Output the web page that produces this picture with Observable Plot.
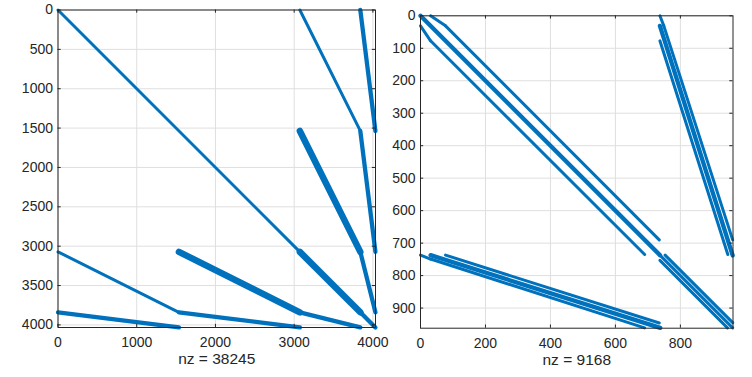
<!DOCTYPE html>
<html><head><meta charset="utf-8">
<script src="https://cdn.jsdelivr.net/npm/d3@7"></script>
<script src="https://cdn.jsdelivr.net/npm/@observablehq/plot@0.6"></script>
<style>
body{margin:0;background:#fff;}
#fig{position:relative;width:752px;height:377px;overflow:hidden;background:#fff;}
#fig > div{position:absolute;top:0;}
</style></head><body>
<div id="fig"><div id="a" style="left:0px"></div><div id="b" style="left:380px"></div></div>
<script>
// ---- Left matrix (n = 4032): nonzero pattern as segments [col0,row0,col1,row1,kind]
const leftN = 4032;
const leftLabel = "nz = 38245";
const leftXTicks = [0, 1000, 2000, 3000, 4000];
const leftYTicks = [0, 500, 1000, 1500, 2000, 2500, 3000, 3500, 4000];
const leftSegments = [
  [0, 0, 3072, 3072, "line"],
  [3072, 3072, 3840, 3840, "band"],
  [3840, 3840, 4032, 4032, "wide"],
  [3072, 0, 3840, 1536, "line"],
  [3840, 0, 4032, 1536, "wide"],
  [3072, 1536, 3840, 3072, "band"],
  [3840, 1536, 4032, 3072, "wide"],
  [3840, 3072, 4032, 3840, "wide"],
  [0, 3072, 1536, 3840, "line"],
  [0, 3840, 1536, 4032, "wide"],
  [1536, 3072, 3072, 3840, "band"],
  [1536, 3840, 3072, 4032, "wide"],
  [3072, 3840, 3840, 4032, "wide"]
];

// ---- Right matrix (n = 961)
const rightN = 961;
const rightLabel = "nz = 9168";
const rightXTicks = [0, 200, 400, 600, 800];
const rightYTicks = [0, 100, 200, 300, 400, 500, 600, 700, 800, 900];
const rightSegments = [
  [0, 0, 737, 737, "wide"],
  [31, 0, 77, 31, "line"], [77, 31, 735, 690, "line"],
  [0, 31, 31, 77, "line"], [31, 77, 690, 735, "line"],
  [737, 737, 961, 961, "line"],
  [753, 737, 961, 945, "line"],
  [737, 753, 945, 961, "line"],
  [737, 0, 749, 31, "line"], [749, 31, 961, 690, "line"],
  [737, 31, 961, 738, "wide"],
  [737, 77, 946, 735, "line"],
  [0, 737, 31, 749, "line"], [31, 749, 690, 961, "line"],
  [31, 737, 738, 961, "wide"],
  [77, 737, 735, 946, "line"]
];

const BLUE = "#0072BD";
const INK = "#262626";
const GRID = "#dfdfdf";
const widths = {line: 3, wide: 4.3, band: 6.5};

function spy(el, {width, height, ml, mr, mt, mb, n, xt, yt, segs, label}) {
  const W = width - ml - mr, H = height - mt - mb, tl = 3.2;
  const rows = segs.map(([c0, r0, c1, r1, kind]) => ({c0, r0, c1, r1, kind}));
  const linkMarks = Object.keys(widths).map(k =>
    Plot.link(rows.filter(d => d.kind === k), {
      x1: "c0", y1: "r0", x2: "c1", y2: "r1",
      stroke: BLUE, strokeWidth: widths[k], strokeLinecap: "round"
    }));
  const chart = Plot.plot({
    width, height, marginLeft: ml, marginRight: mr, marginTop: mt, marginBottom: mb,
    style: {background: "transparent", fontFamily: "'Liberation Sans', Arial, sans-serif", fontSize: "14px", color: INK, overflow: "visible"},
    x: {domain: [0, n + 1], label: null},
    y: {domain: [0, n + 1], reverse: true, label: null},
    marks: [
      Plot.gridX(xt, {stroke: GRID, strokeOpacity: 1}),
      Plot.gridY(yt, {stroke: GRID, strokeOpacity: 1}),
      ...linkMarks,
      Plot.tickX(xt, {x: d => d, stroke: INK, insetBottom: H - tl}),
      Plot.tickX(xt, {x: d => d, stroke: INK, insetTop: H - tl}),
      Plot.tickY(yt, {y: d => d, stroke: INK, insetRight: W - tl}),
      Plot.tickY(yt, {y: d => d, stroke: INK, insetLeft: W - tl}),
      Plot.frame({stroke: INK, strokeWidth: 1}),
      Plot.axisX(xt, {tickSize: 0, tickPadding: 9.5, tickFormat: d => String(d), label: null}),
      Plot.axisY(yt, {tickSize: 0, tickPadding: 5, tickFormat: d => String(d), label: null}),
      Plot.text([label], {frameAnchor: "bottom", dy: 25.5, lineAnchor: "top", fontSize: 15.5, fill: INK, text: d => d})
    ]
  });
  document.getElementById(el).appendChild(chart);
}

spy("a", {width: 390, height: 377, ml: 57.5, mr: 15, mt: 9.5, mb: 50, n: leftN, xt: leftXTicks, yt: leftYTicks, segs: leftSegments, label: leftLabel});
spy("b", {width: 372, height: 377, ml: 40, mr: 19.5, mt: 15.3, mb: 49.3, n: rightN, xt: rightXTicks, yt: rightYTicks, segs: rightSegments, label: rightLabel});
</script>
</body></html>
